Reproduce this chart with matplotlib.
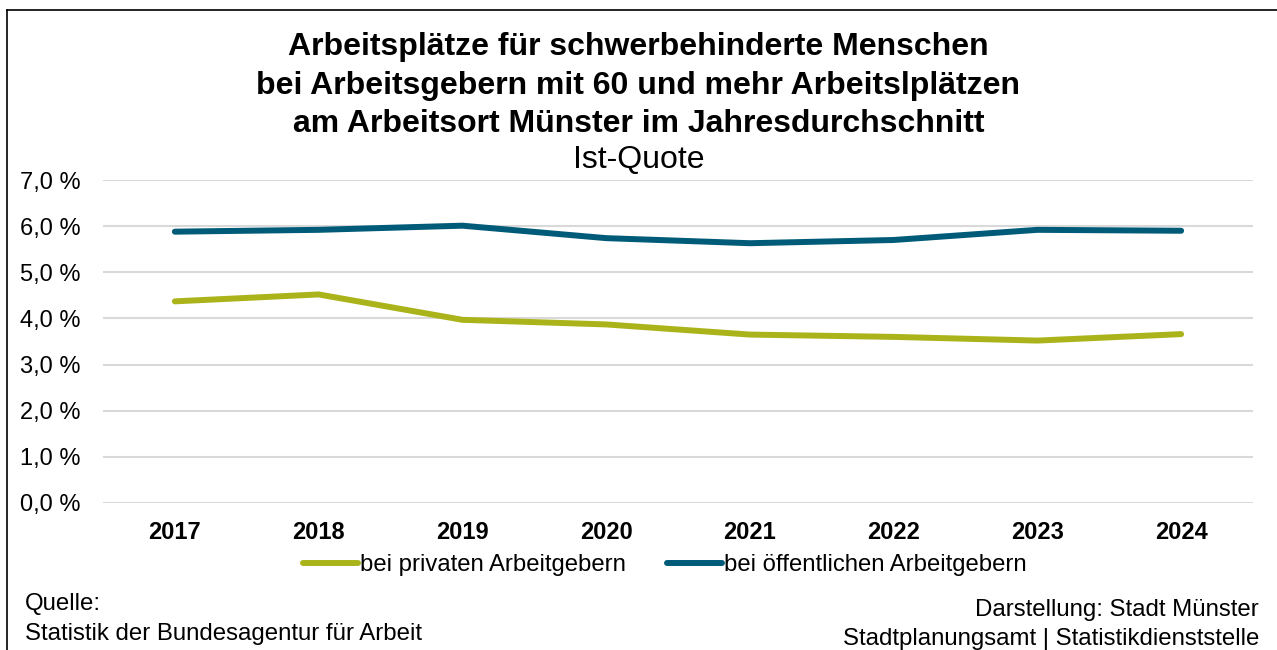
import matplotlib.pyplot as plt
from matplotlib.lines import Line2D

plt.rcParams['font.family'] = ['Liberation Sans', 'DejaVu Sans']

# Daten
jahre = ['2017', '2018', '2019', '2020', '2021', '2022', '2023', '2024']
privat = [4.37, 4.52, 3.97, 3.87, 3.65, 3.60, 3.52, 3.66]
oeffentlich = [5.88, 5.92, 6.01, 5.74, 5.63, 5.70, 5.92, 5.90]
y_ticks = [0, 1, 2, 3, 4, 5, 6, 7]

farbe_privat = '#AAB41A'
farbe_oeff = '#005B78'

W, H = 1277, 650
fig = plt.figure(figsize=(W / 100, H / 100), dpi=100)
ax = fig.add_axes([103 / W, 1 - 503 / H, 1150 / W, 323 / H])

x = list(range(len(jahre)))
ax.plot(x, privat, color=farbe_privat, lw=4.3, solid_capstyle='round',
        label='bei privaten Arbeitgebern')
ax.plot(x, oeffentlich, color=farbe_oeff, lw=4.3, solid_capstyle='round',
        label='bei öffentlichen Arbeitgebern')

ax.set_xlim(-0.5, len(jahre) - 0.5)
ax.set_ylim(0, 7)
ax.set_yticks(y_ticks)
ax.set_yticklabels([f'{v:.1f} %'.replace('.', ',') for v in y_ticks], fontsize=17)
ax.set_xticks(x)
ax.set_xticklabels(jahre, fontsize=17, fontweight='bold')
ax.tick_params(length=0)
ax.tick_params(axis='y', pad=16)
ax.tick_params(axis='x', pad=13)
ax.grid(axis='y', color='#D9D9D9', lw=1.5)
ax.set_axisbelow(True)
for s in ax.spines.values():
    s.set_visible(False)

# Titel
fig.text(0.5, 1 - 47 / H, 'Arbeitsplätze für schwerbehinderte Menschen',
         ha='center', va='center', fontsize=23, fontweight='bold')
fig.text(0.5, 1 - 86 / H, 'bei Arbeitsgebern mit 60 und mehr Arbeitslplätzen',
         ha='center', va='center', fontsize=23, fontweight='bold')
fig.text(0.5, 1 - 124 / H, 'am Arbeitsort Münster im Jahresdurchschnitt',
         ha='center', va='center', fontsize=23, fontweight='bold')
fig.text(0.5, 1 - 160 / H, 'Ist-Quote', ha='center', va='center', fontsize=23)

# Legende
handles = [Line2D([], [], color=farbe_privat, lw=4.3, solid_capstyle='round'),
           Line2D([], [], color=farbe_oeff, lw=4.3, solid_capstyle='round')]
fig.legend(handles, ['bei privaten Arbeitgebern', 'bei öffentlichen Arbeitgebern'],
           loc='center', bbox_to_anchor=(665 / W, 1 - 565 / H), ncol=2,
           frameon=False, fontsize=17.2, handlelength=2.3, handletextpad=0.1,
           columnspacing=1.7)

# Quelle / Darstellung
fig.text(25 / W, 1 - 604 / H, 'Quelle:', ha='left', va='center', fontsize=17.3)
fig.text(25 / W, 1 - 634 / H, 'Statistik der Bundesagentur für Arbeit',
         ha='left', va='center', fontsize=17.3)
fig.text(1259 / W, 1 - 610 / H, 'Darstellung: Stadt Münster',
         ha='right', va='center', fontsize=17.3)
fig.text(1259 / W, 1 - 639 / H, 'Stadtplanungsamt | Statistikdienststelle',
         ha='right', va='center', fontsize=17.3)

# Rahmen
fig.add_artist(Line2D([7 / W, 1], [1 - 10 / H, 1 - 10 / H], color='black', lw=1.2))
fig.add_artist(Line2D([7 / W, 7 / W], [0, 1 - 10 / H], color='black', lw=1.2))

fig.savefig('out.png', dpi=100)
